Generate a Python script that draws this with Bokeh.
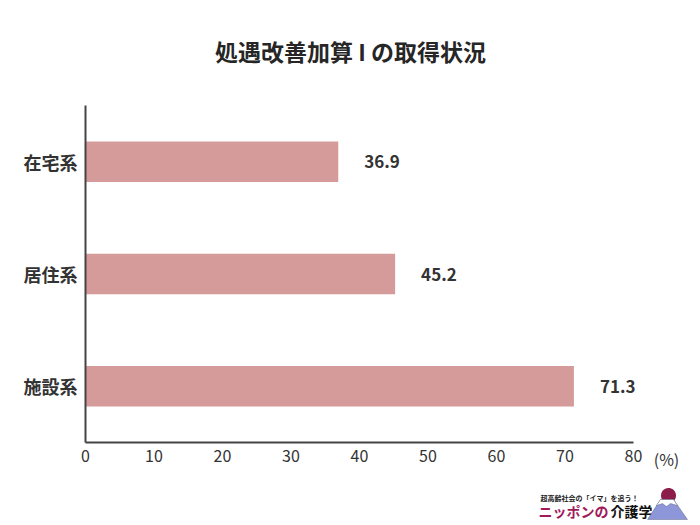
import numpy as np
from bokeh.plotting import figure
from bokeh.models import Range1d, FixedTicker, Label, PolyAnnotation, ColumnDataSource, LinearAxis
from bokeh.core.properties import value
from bokeh.embed import file_html
from bokeh.resources import INLINE

categories = ["在宅系", "居住系", "施設系"]
values = [36.9, 45.2, 71.3]
x_ticks = [0, 10, 20, 30, 40, 50, 60, 70, 80]
title_text = "処遇改善加算 I の取得状況"

FONT = "Noto Sans CJK JP"
BAR = "#d59a9a"
TXT = "#333333"
W, H = 700, 525

# layout geometry (pixels): x axis 0..80 spans 85..633, category band area 105..442
X_LEFT, X_RIGHT = 85, 633
Y_TOP, Y_BOT = 105, 442
n = len(categories)
ppx = (X_RIGHT - X_LEFT) / (x_ticks[-1] - x_ticks[0])
ppy = (Y_BOT - Y_TOP) / n
x_start = x_ticks[0] - X_LEFT / ppx
x_end = x_ticks[-1] + (W - X_RIGHT) / ppx
y_top_val = n - 0.5
y_end = y_top_val + Y_TOP / ppy
y_start = -0.5 - (H - Y_BOT) / ppy

def dx(px):
    return x_start + px / ppx

def dy(py):
    return y_end - py / ppy

ypos = [n - 1 - i for i in range(n)]
src = ColumnDataSource(dict(y=ypos, val=values, lab=[f"{v:.1f}" for v in values]))

p = figure(width=W, height=H, output_backend="svg", toolbar_location=None,
           x_range=Range1d(x_start, x_end), y_range=Range1d(y_start, y_end),
           x_axis_location=None, y_axis_location=None, min_border=0)
p.outline_line_color = None
p.xgrid.visible = False
p.ygrid.visible = False

p.hbar(y="y", right="val", left=0, height=0.36, source=src, fill_color=BAR, line_color=None)
p.text(x="val", y="y", text="lab", source=src, x_offset=26, text_align="left",
       text_baseline="middle", text_font=value(FONT), text_font_style="bold",
       text_font_size="17px", text_color=TXT)

xaxis = LinearAxis(fixed_location=-0.5, bounds=(x_ticks[0], x_ticks[-1]),
                   ticker=FixedTicker(ticks=x_ticks))
yaxis = LinearAxis(fixed_location=0, bounds=(-0.5, n - 0.5),
                   ticker=FixedTicker(ticks=ypos),
                   major_label_overrides={yp: c for yp, c in zip(ypos, categories)})
for ax in (xaxis, yaxis):
    ax.axis_line_color = "#444444"
    ax.axis_line_width = 2
    ax.major_tick_line_color = None
    ax.minor_tick_line_color = None
    ax.major_tick_out = 0
    ax.major_tick_in = 0
    ax.minor_tick_out = 0
    ax.minor_tick_in = 0
    ax.major_label_text_font = FONT
    ax.major_label_text_color = TXT
xaxis.major_label_standoff = 7
yaxis.major_label_standoff = 8
xaxis.major_label_text_font_size = "16px"
yaxis.major_label_text_font_size = "18px"
yaxis.major_label_text_font_style = "bold"
p.add_layout(xaxis, "below")
p.add_layout(yaxis, "left")

def lab(px, py, text, size, color=TXT, bold=True, align="left"):
    p.add_layout(Label(x=dx(px), y=dy(py), text=text, text_align=align, text_baseline="middle",
                       text_font=FONT, text_font_style="bold" if bold else "normal",
                       text_font_size=size, text_color=color))

lab(350, 50, title_text, "23px", color="#262626", align="center")
lab(666, 458, "(%)", "16px", bold=False, align="center")
# logo
lab(540, 497, "超高齢社会の「イマ」を追う！", "7px", color="#222222")
lab(538, 510, "ニッポンの", "14px", color="#a0195c")
lab(610, 510, "介護学", "14px", color="#111111")
t = np.linspace(0, 2 * np.pi, 40)
p.add_layout(PolyAnnotation(xs=[dx(668 + 7.5 * np.cos(a)) for a in t],
                            ys=[dy(495 + 7.5 * np.sin(a)) for a in t],
                            fill_color="#8c1d4b", fill_alpha=1, line_color=None))
p.add_layout(PolyAnnotation(xs=[dx(v) for v in (647, 660, 673, 687)],
                            ys=[dy(v) for v in (519, 499, 499, 519)],
                            fill_color="#8d96d8", fill_alpha=1, line_color="#2a2d4a", line_width=1))
p.add_layout(PolyAnnotation(xs=[dx(v) for v in (656, 660, 673, 677, 670, 666, 662)],
                            ys=[dy(v) for v in (505, 499, 499, 505, 503, 506, 503)],
                            fill_color="white", fill_alpha=1, line_color="#2a2d4a", line_width=1))

open("out.html", "w").write(file_html(p, INLINE))
